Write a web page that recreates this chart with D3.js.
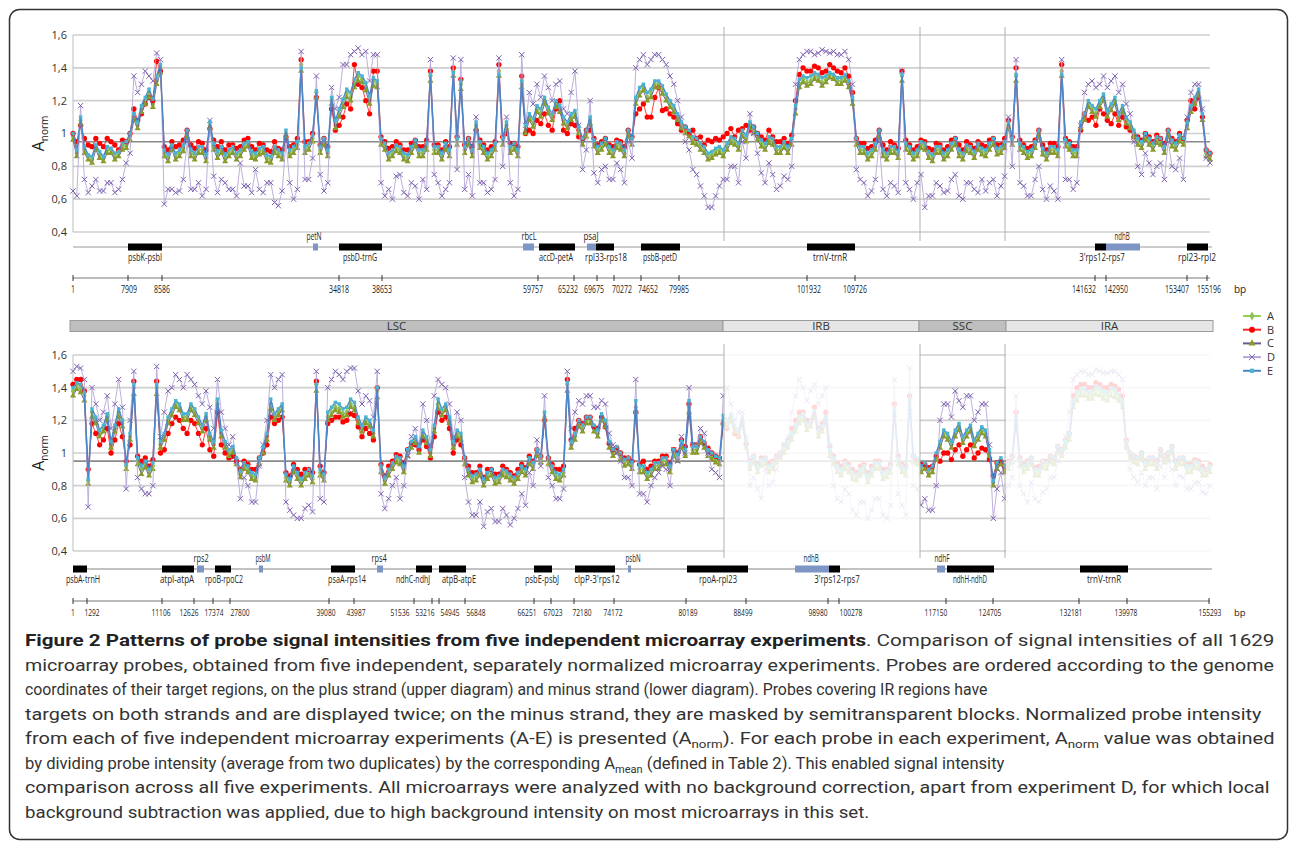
<!DOCTYPE html>
<html lang="en">
<head>
<meta charset="utf-8">
<title>Figure 2</title>
<script src="https://d3js.org/d3.v7.min.js"></script>
<style>
body { margin: 0; background: #fff; }
svg text { font-family: "Open Sans", "DejaVu Sans", sans-serif; fill: #222; }
svg text.cap { font-family: "Roboto", "Open Sans", sans-serif; }
</style>
</head>
<body>
<div id="container"></div>
<script>
// ---- data ----
var seriesNames = ["A", "B", "C", "D", "E"];
var yTickValues = [0.4, 0.6, 0.8, 1, 1.2, 1.4, 1.6];
var refLevel = 0.95;
var probeCount = 1137;   // probe rank along the genome, per strand

// plus strand (upper diagram), sampled probes in genome order
var topA = [
 .98,.88,1.08,.90,.86,.84,.92,.87,.85,.90,.90,.86,.88,.92,.93,.98,1.10,1.05,1.15,1.20,
 1.25,1.18,1.32,1.40,.88,.85,.92,.86,.88,.91,1.00,.88,.86,.90,.90,.85,1.05,.92,.87,.90,
 .85,.88,.90,.86,.88,.92,.94,.87,.86,.89,.90,.85,.84,.90,.88,.86,1.00,.88,.90,.93,
 1.42,.90,.92,.97,1.25,.90,.95,.88,1.20,1.05,1.12,1.18,1.25,1.22,1.30,1.35,1.33,1.28,1.20,1.32,
 1.30,.95,.92,.86,.88,.91,.90,.86,.85,.90,.94,.88,.88,.92,1.35,.90,.90,.86,.92,.88,
 1.38,.95,1.30,.90,.95,.88,1.05,.93,.90,.86,.88,.92,1.38,.95,1.05,.90,.92,.88,1.30,1.02,
 1.10,1.06,1.15,1.12,1.20,1.14,1.10,1.18,1.15,1.08,1.05,1.10,1.12,1.02,.95,1.00,1.08,.94,.90,.92,
 .95,.90,.88,.93,.92,.88,1.00,.95,1.20,1.25,1.28,1.22,1.25,1.30,1.30,1.26,1.22,1.18,1.15,1.10,
 1.05,1.02,1.00,.96,.95,.92,.90,.86,.87,.89,.90,.88,.92,.96,.95,.92,1.00,.97,1.05,1.02,
 .98,.94,.92,.96,.95,.90,.90,.93,.90,.95,1.15,1.30,1.33,1.31,1.32,1.35,1.34,1.31,1.33,1.36,
 1.35,1.32,1.32,1.34,1.30,1.20,.95,.90,.90,.86,.88,.92,1.00,.88,.86,.90,.90,.87,1.35,.92,
 .90,.86,.88,.93,.92,.87,.85,.90,.90,.86,.88,.92,.95,.88,.86,.91,.90,.87,.92,.89,
 .88,.92,.95,.89,.90,.93,1.05,.95,1.35,.92,.90,.87,.88,.93,1.00,.89,.86,.90,.90,.88,
 1.38,.94,.92,.88,.88,1.05,1.10,1.18,1.15,1.12,1.18,1.22,1.12,1.16,1.20,1.10,1.15,1.08,1.05,1.00,
 .95,.93,.98,.95,.92,.96,.95,.90,1.00,.94,.92,.97,.95,1.05,1.15,1.20,1.25,1.10,.88,.86];
var topB = [
 1.00,.95,1.05,.97,.93,.92,.97,.94,.92,.97,.95,.93,.90,.96,.95,1.00,1.15,1.08,1.12,1.18,
 1.22,1.20,1.44,1.38,.92,.90,.95,.92,.93,.96,1.02,.93,.91,.95,.94,.90,1.03,.96,.92,.95,
 .90,.93,.93,.91,.92,.96,.97,.92,.90,.94,.93,.90,.89,.95,.91,.90,.98,.92,.93,.97,
 1.45,.95,.95,1.00,1.22,.93,.97,.92,1.15,1.02,1.05,1.10,1.18,1.15,1.42,1.30,1.28,1.20,1.12,1.38,
 1.38,.98,.95,.91,.92,.95,.93,.90,.90,.94,.96,.92,.92,.96,1.38,.93,.93,.90,.95,.92,
 1.40,.98,1.33,.93,.97,.92,1.02,.96,.93,.90,.92,.95,1.42,.98,1.00,.94,.94,.92,1.35,1.00,
 1.02,1.00,1.08,1.06,1.12,1.05,1.02,1.15,1.20,1.02,1.00,1.06,1.05,.98,.97,1.02,1.02,.97,.93,.95,
 .97,.93,.92,.96,.95,.92,1.02,.98,1.12,1.15,1.18,1.10,1.10,1.22,1.28,1.14,1.15,1.12,1.10,1.06,
 1.02,1.04,1.00,1.02,.97,.98,.93,.96,.95,.97,.96,.98,1.00,1.03,.98,1.02,1.03,1.05,1.02,1.04,
 1.00,.98,.96,1.02,.98,.95,.95,.97,.94,.99,1.20,1.36,1.40,1.38,1.38,1.41,1.40,1.37,1.38,1.42,
 1.40,1.38,1.37,1.40,1.35,1.25,.97,.94,.94,.91,.92,.96,1.02,.93,.90,.95,.93,.91,1.38,.96,
 .93,.90,.92,.96,.95,.91,.90,.94,.93,.90,.92,.96,.97,.93,.90,.95,.93,.91,.95,.93,
 .92,.96,.97,.93,.93,.97,1.08,.98,1.40,.96,.93,.91,.92,.96,1.02,.93,.90,.94,.94,.92,
 1.42,.97,.95,.92,.92,1.02,1.12,1.08,1.10,1.05,1.15,1.12,1.08,1.06,1.12,1.05,1.10,1.04,1.02,.98,
 .98,.96,1.00,.98,.95,.99,.97,.94,1.02,.97,.95,1.00,.97,1.08,1.20,1.15,1.22,1.10,.90,.88];
var topC = [
 .96,.86,1.06,.88,.84,.82,.90,.85,.83,.88,.88,.84,.86,.90,.91,.96,1.08,1.03,1.13,1.18,
 1.22,1.16,1.30,1.37,.86,.83,.90,.84,.86,.89,.98,.86,.84,.88,.88,.83,1.03,.90,.85,.88,
 .83,.86,.88,.84,.86,.90,.92,.85,.84,.87,.88,.83,.82,.88,.86,.84,.98,.86,.88,.91,
 1.38,.88,.90,.95,1.22,.88,.93,.86,1.18,1.03,1.10,1.16,1.22,1.20,1.28,1.32,1.31,1.26,1.18,1.29,
 1.28,.93,.90,.84,.86,.89,.88,.84,.83,.88,.92,.86,.86,.90,1.32,.88,.88,.84,.90,.86,
 1.35,.93,1.27,.88,.93,.86,1.03,.91,.88,.84,.86,.90,1.35,.93,1.03,.88,.90,.86,1.28,1.00,
 1.08,1.04,1.13,1.10,1.18,1.12,1.08,1.16,1.13,1.06,1.03,1.08,1.10,1.00,.93,.98,1.06,.92,.88,.90,
 .93,.88,.86,.91,.90,.86,.98,.93,1.18,1.23,1.26,1.20,1.22,1.28,1.28,1.24,1.20,1.16,1.13,1.08,
 1.03,1.00,.98,.94,.93,.90,.88,.84,.85,.87,.88,.86,.90,.94,.93,.90,.98,.95,1.03,1.00,
 .96,.92,.90,.94,.93,.88,.88,.91,.88,.93,1.12,1.28,1.31,1.29,1.30,1.33,1.32,1.29,1.31,1.34,
 1.33,1.30,1.30,1.32,1.28,1.18,.93,.88,.88,.84,.86,.90,.98,.86,.84,.88,.88,.85,1.32,.90,
 .88,.84,.86,.91,.90,.85,.83,.88,.88,.84,.86,.90,.93,.86,.84,.89,.88,.85,.90,.87,
 .86,.90,.93,.87,.88,.91,1.03,.93,1.32,.90,.88,.85,.86,.91,.98,.87,.84,.88,.88,.86,
 1.35,.92,.90,.86,.86,1.03,1.08,1.16,1.13,1.10,1.16,1.20,1.10,1.14,1.18,1.08,1.13,1.06,1.03,.98,
 .93,.91,.96,.93,.90,.94,.93,.88,.98,.92,.90,.95,.93,1.03,1.13,1.18,1.23,1.08,.86,.84];
var topD = [
 .65,.62,1.17,.72,.64,.68,.72,.65,.65,.70,.70,.64,.66,.72,.82,.88,1.35,1.25,1.30,1.38,
 1.35,1.32,1.49,1.45,.57,.66,.66,.64,.65,.72,.95,.66,.66,.70,.62,.66,1.08,.74,.64,.72,
 .70,.66,.66,.62,.82,.68,.68,.64,.78,.66,.64,.70,.70,.58,.56,.65,.95,.70,.60,.66,
 1.50,.72,.72,.85,1.35,.75,.65,.70,1.28,1.15,1.22,1.42,1.42,1.48,1.50,1.52,1.48,1.50,1.32,1.48,
 1.48,.70,.62,.66,.60,.74,.75,.64,.62,.70,.68,.60,.72,.66,1.45,.75,.70,.62,.66,.70,
 1.46,.78,1.45,.66,.75,.62,1.10,.70,.70,.64,.66,.72,1.46,.80,1.10,.70,.62,.66,1.48,1.05,
 1.25,1.18,1.30,1.22,1.35,1.28,1.20,1.30,1.32,1.15,1.12,1.25,1.38,1.05,.78,.90,1.20,.76,.70,.78,
 .80,.72,.72,.82,.78,.70,.95,.85,1.40,1.45,1.48,1.42,1.45,1.48,1.48,1.45,1.42,1.35,1.30,1.20,
 1.10,.95,.90,.78,.75,.68,.62,.55,.55,.62,.68,.72,.72,.80,.80,.70,.95,.85,1.12,1.00,
 .88,.76,.70,.82,.75,.66,.68,.74,.72,.80,1.30,1.45,1.48,1.50,1.50,1.48,1.49,1.51,1.50,1.49,
 1.50,1.48,1.48,1.50,1.45,1.30,.78,.72,.70,.62,.65,.72,.95,.66,.62,.70,.68,.64,1.38,.70,
 .66,.60,.70,.75,.55,.62,.62,.70,.68,.64,.65,.72,.75,.62,.60,.70,.70,.66,.64,.72,
 .65,.70,.72,.62,.68,.74,1.10,.80,1.45,.70,.68,.62,.62,.72,.80,.66,.60,.68,.65,.60,
 1.45,.72,.72,.66,.70,1.05,1.25,1.30,1.32,1.28,1.30,1.35,1.28,1.32,1.35,1.25,1.30,1.18,1.12,.95,
 .80,.75,.88,.82,.75,.80,.82,.72,.95,.80,.78,.85,.72,1.10,1.25,1.30,1.30,1.15,.85,.82];
var topE = [
 1.00,.90,1.10,.92,.87,.86,.93,.89,.86,.92,.91,.88,.89,.94,.95,1.00,1.12,1.07,1.17,1.22,
 1.27,1.21,1.35,1.42,.90,.87,.93,.88,.90,.93,1.02,.90,.88,.92,.92,.87,1.07,.94,.89,.92,
 .87,.90,.92,.88,.90,.94,.95,.89,.88,.91,.92,.87,.86,.92,.90,.88,1.02,.90,.92,.95,
 1.40,.92,.94,.99,1.26,.92,.97,.90,1.22,1.08,1.15,1.21,1.27,1.25,1.33,1.37,1.35,1.31,1.23,1.34,
 1.32,.97,.94,.88,.90,.93,.92,.88,.87,.92,.96,.90,.90,.94,1.36,.92,.92,.88,.94,.90,
 1.37,.97,1.32,.92,.97,.90,1.07,.95,.92,.88,.90,.94,1.36,.97,1.07,.92,.94,.90,1.32,1.05,
 1.12,1.09,1.17,1.15,1.22,1.16,1.12,1.20,1.17,1.10,1.07,1.12,1.14,1.04,.97,1.02,1.10,.96,.92,.94,
 .97,.92,.90,.95,.94,.90,1.02,.97,1.22,1.28,1.30,1.25,1.27,1.32,1.32,1.29,1.24,1.20,1.17,1.12,
 1.07,1.04,1.02,.98,.97,.94,.92,.88,.89,.91,.92,.90,.94,.98,.97,.94,1.02,.99,1.07,1.04,
 1.00,.96,.94,.98,.97,.92,.92,.95,.92,.97,1.17,1.33,1.35,1.34,1.35,1.37,1.36,1.34,1.35,1.37,
 1.36,1.34,1.34,1.36,1.32,1.22,.97,.92,.92,.88,.90,.94,1.02,.90,.88,.92,.92,.89,1.36,.94,
 .92,.88,.90,.95,.94,.89,.87,.92,.92,.88,.90,.94,.97,.90,.88,.93,.92,.89,.94,.91,
 .90,.94,.97,.91,.92,.95,1.07,.97,1.36,.94,.92,.89,.90,.95,1.02,.91,.88,.92,.92,.90,
 1.36,.96,.94,.90,.90,1.07,1.12,1.20,1.17,1.15,1.20,1.24,1.14,1.18,1.22,1.12,1.17,1.10,1.07,1.02,
 .97,.95,1.00,.97,.94,.98,.97,.92,1.02,.96,.94,.99,.97,1.07,1.17,1.22,1.27,1.12,.90,.88];

// minus strand (lower diagram)
var lowA = [
 1.38,1.42,1.40,1.35,.83,1.25,1.20,1.12,1.15,1.22,1.05,1.15,1.25,1.18,.92,1.10,1.40,.95,.90,.93,
 .88,.92,1.40,1.05,1.10,1.20,1.25,1.30,1.28,1.22,1.22,1.28,1.25,1.20,1.15,1.22,1.10,1.05,1.30,1.12,
 1.05,1.00,1.02,.95,.87,.92,.90,.86,.85,.95,1.02,1.10,1.30,1.22,1.25,1.28,.85,.82,.90,.86,
 .82,.86,.88,.84,1.42,.88,.85,1.22,1.25,1.28,1.27,1.24,1.25,1.30,1.28,1.20,1.15,1.20,1.18,1.12,
 1.38,.90,.83,.88,.92,.96,.95,.90,1.00,1.05,1.08,1.02,1.12,1.08,1.00,1.15,1.30,1.25,1.28,1.20,
 1.05,1.12,1.10,.95,.88,.84,.85,.88,.82,.86,.88,.83,.84,.88,.87,.85,.83,.86,.90,.88,
 .95,.92,1.00,.96,1.22,.95,.90,.86,.85,.88,1.42,1.05,1.10,1.18,1.15,1.20,1.20,1.15,1.12,1.22,
 1.18,1.05,1.00,1.02,.98,.94,.95,.92,1.28,.90,.90,.86,.88,.92,.92,.95,.95,.90,1.00,.97,
 1.05,1.00,1.28,1.02,1.02,1.08,1.05,1.00,.98,.96,.95,1.20,1.18,1.22,1.15,1.12,1.20,1.05,.92,.96,
 .90,.94,.95,.90,.92,.96,.98,1.02,1.05,1.10,1.15,1.20,1.22,1.16,1.18,1.24,1.12,1.15,1.20,1.00,
 .95,.90,.88,.92,.90,.86,.85,.88,.90,.84,.88,.92,.92,.86,.87,.90,1.25,.95,.90,.88,
 1.30,.96,.95,.90,.92,.88,.90,.98,1.05,1.12,1.10,1.05,1.12,1.16,1.08,1.12,1.15,1.06,1.10,1.14,
 1.12,1.00,.82,.92,.95,.90,.92,.96,1.20,.94,.90,.92,.95,.88,.88,.93,.92,.96,.95,1.02,
 1.00,1.05,1.10,1.30,1.35,1.37,1.38,1.35,1.36,1.39,1.38,1.36,1.35,1.38,1.37,1.34,1.30,1.05,.98,.96,
 .95,.98,.92,.95,.95,.92,1.00,.96,.98,1.02,.92,.95,.95,.90,.90,.93,.92,.88,.88,.90];
var lowB = [
 1.42,1.45,1.45,1.38,.90,1.18,1.12,1.05,1.08,1.15,1.00,1.08,1.18,1.10,.95,1.05,1.44,.98,.95,.97,
 .92,.96,1.44,1.00,1.02,1.12,1.18,1.22,1.20,1.15,1.12,1.20,1.18,1.12,1.05,1.15,1.02,.98,1.25,1.05,
 1.00,.97,.98,.95,.90,.95,.93,.90,.90,.97,1.00,1.05,1.22,1.18,1.20,1.22,.88,.86,.93,.90,
 .87,.90,.90,.88,1.44,.92,.88,1.18,1.20,1.22,1.22,1.19,1.20,1.24,1.23,1.16,1.10,1.15,1.12,1.08,
 1.40,.93,.86,.92,.95,.99,.98,.94,1.02,1.06,1.05,1.02,1.08,1.04,.97,1.10,1.25,1.20,1.22,1.15,
 1.00,1.08,1.05,.97,.92,.88,.88,.92,.85,.90,.90,.87,.87,.92,.90,.88,.86,.90,.93,.91,
 .98,.95,1.02,.98,1.20,.97,.93,.90,.90,.92,1.45,1.08,1.15,1.20,1.18,1.22,1.22,1.16,1.15,1.22,
 1.16,1.06,1.02,1.03,1.00,.97,.97,.95,1.25,.93,.95,.90,.92,.95,.95,.98,.98,.94,1.02,1.00,
 1.08,1.04,1.30,1.05,1.05,1.10,1.06,1.03,1.00,.98,.97,1.18,1.15,1.20,1.12,1.10,1.18,1.06,.95,.98,
 .93,.97,.97,.94,.95,.98,1.00,1.05,1.08,1.15,1.20,1.25,1.25,1.20,1.20,1.28,1.15,1.18,1.25,1.04,
 .98,.94,.92,.95,.93,.90,.88,.92,.93,.88,.92,.95,.95,.90,.90,.93,1.30,.98,.93,.92,
 1.35,.98,.96,.93,.93,.91,.92,.98,.95,1.00,1.00,.96,1.02,1.05,.98,1.02,1.05,.97,1.00,1.03,
 1.02,.96,.86,.94,.95,.92,.95,.98,1.25,.97,.93,.95,.97,.91,.92,.95,.95,.98,.97,1.04,
 1.02,1.08,1.12,1.35,1.40,1.42,1.42,1.40,1.40,1.43,1.42,1.40,1.40,1.42,1.41,1.39,1.35,1.08,1.00,.98,
 .97,1.00,.95,.97,.97,.95,1.02,.98,1.00,1.04,.95,.97,.97,.93,.93,.96,.95,.92,.90,.93];
var lowC = [
 1.35,1.39,1.37,1.32,.81,1.22,1.18,1.10,1.13,1.20,1.03,1.13,1.22,1.16,.90,1.08,1.36,.93,.87,.91,
 .86,.90,1.36,1.03,1.08,1.18,1.23,1.28,1.26,1.20,1.20,1.26,1.23,1.18,1.13,1.20,1.08,1.03,1.27,1.10,
 1.03,.98,1.00,.93,.85,.90,.88,.84,.83,.93,1.00,1.08,1.27,1.20,1.23,1.26,.83,.80,.88,.84,
 .80,.84,.86,.82,1.38,.86,.83,1.20,1.23,1.26,1.25,1.22,1.23,1.28,1.26,1.18,1.13,1.18,1.16,1.10,
 1.34,.88,.81,.86,.90,.94,.93,.88,.98,1.03,1.06,1.00,1.10,1.06,.98,1.13,1.27,1.23,1.26,1.18,
 1.03,1.10,1.08,.93,.86,.82,.83,.86,.80,.84,.86,.81,.82,.86,.85,.83,.81,.84,.88,.86,
 .93,.90,.98,.94,1.20,.93,.88,.84,.83,.86,1.38,1.03,1.08,1.16,1.13,1.18,1.18,1.13,1.10,1.20,
 1.16,1.03,.98,1.00,.96,.92,.93,.90,1.25,.88,.88,.84,.86,.90,.90,.93,.93,.88,.98,.95,
 1.03,.98,1.25,1.00,1.00,1.06,1.03,.98,.96,.94,.93,1.18,1.16,1.20,1.13,1.10,1.18,1.03,.90,.94,
 .88,.92,.93,.88,.90,.94,.96,1.00,1.03,1.08,1.13,1.18,1.20,1.14,1.16,1.22,1.10,1.13,1.18,.98,
 .93,.88,.86,.90,.88,.84,.83,.86,.88,.82,.86,.90,.90,.84,.85,.88,1.23,.93,.88,.86,
 1.27,.94,.93,.88,.90,.86,.88,.96,1.03,1.10,1.08,1.03,1.10,1.14,1.06,1.10,1.13,1.04,1.08,1.12,
 1.10,.98,.80,.90,.93,.88,.90,.94,1.18,.92,.88,.90,.93,.86,.86,.91,.90,.94,.93,1.00,
 .98,1.03,1.08,1.28,1.32,1.35,1.35,1.33,1.33,1.36,1.35,1.33,1.32,1.35,1.34,1.32,1.28,1.03,.96,.94,
 .93,.96,.90,.93,.93,.90,.98,.94,.96,1.00,.90,.93,.93,.88,.88,.91,.90,.86,.86,.88];
var lowD = [
 1.50,1.53,1.52,1.45,.67,1.40,1.30,1.20,1.25,1.35,1.15,1.30,1.45,1.28,.78,1.20,1.50,.85,.78,.75,
 .75,.80,1.53,1.10,1.25,1.38,1.40,1.48,1.45,1.40,1.48,1.45,1.42,1.35,1.30,1.38,1.28,1.15,1.45,1.25,
 1.15,1.05,1.10,.95,.72,.85,.80,.70,.70,.92,1.05,1.20,1.48,1.40,1.45,1.48,.70,.65,.62,.60,
 .60,.66,.68,.64,1.50,.72,.70,1.40,1.45,1.50,1.48,1.45,1.50,1.52,1.52,1.38,1.30,1.35,1.32,1.22,
 1.50,.75,.66,.72,.80,.85,.72,.80,.98,1.10,1.15,1.05,1.30,1.20,1.05,1.35,1.45,1.42,1.40,1.30,
 1.10,1.25,1.20,.85,.70,.62,.62,.70,.55,.64,.66,.58,.58,.66,.62,.56,.60,.66,.75,.68,
 .88,.80,1.08,.92,1.35,.85,.80,.72,.72,.78,1.50,1.15,1.25,1.32,1.30,1.35,1.35,1.28,1.28,1.32,
 1.30,1.12,1.05,1.00,.95,.85,.85,.80,1.45,.75,.75,.70,.80,.85,.88,.92,.90,.80,1.02,.95,
 1.10,1.00,1.40,1.05,1.05,1.15,1.12,1.00,.90,.88,.85,1.35,1.40,1.30,1.20,1.25,1.25,1.10,.80,.85,
 .78,.72,.90,.80,.82,.90,.98,1.05,1.10,1.25,1.35,1.45,1.40,1.32,1.38,1.42,1.30,1.35,1.40,1.05,
 .80,.72,.70,.78,.75,.65,.62,.70,.70,.60,.65,.72,.72,.62,.60,.68,1.45,.75,.68,.62,
 1.52,.80,.78,.68,.72,.65,.65,.80,1.20,1.30,1.30,1.22,1.38,1.32,1.28,1.35,1.35,1.20,1.25,1.30,
 1.30,1.05,.60,.78,.88,.72,.80,.85,1.35,.80,.75,.70,.82,.72,.70,.76,.78,.85,.85,.95,
 1.00,1.10,1.25,1.45,1.48,1.50,1.50,1.48,1.48,1.51,1.50,1.49,1.49,1.50,1.50,1.48,1.45,1.05,.90,.85,
 .82,.88,.80,.85,.85,.78,.92,.85,.95,.90,.80,.86,.85,.78,.78,.82,.82,.76,.75,.80];
var lowE = [
 1.40,1.43,1.42,1.37,.84,1.27,1.22,1.14,1.17,1.24,1.07,1.17,1.27,1.20,.93,1.12,1.42,.97,.92,.95,
 .90,.94,1.42,1.07,1.12,1.22,1.27,1.32,1.30,1.24,1.24,1.30,1.27,1.22,1.17,1.24,1.12,1.07,1.33,1.14,
 1.07,1.02,1.04,.97,.89,.94,.92,.88,.87,.97,1.04,1.12,1.33,1.24,1.27,1.30,.87,.84,.92,.88,
 .84,.88,.90,.86,1.42,.90,.87,1.25,1.28,1.31,1.30,1.27,1.28,1.33,1.31,1.22,1.17,1.22,1.20,1.14,
 1.40,.92,.85,.90,.94,.98,.97,.92,1.02,1.07,1.10,1.04,1.14,1.10,1.02,1.17,1.33,1.27,1.30,1.22,
 1.07,1.14,1.12,.97,.90,.86,.87,.90,.84,.88,.90,.85,.86,.90,.89,.87,.85,.88,.92,.90,
 .97,.94,1.02,.98,1.25,.97,.92,.88,.87,.90,1.43,1.07,1.12,1.20,1.17,1.22,1.22,1.17,1.14,1.24,
 1.20,1.07,1.02,1.04,1.00,.96,.97,.94,1.32,.92,.92,.88,.90,.94,.94,.97,.97,.92,1.02,.99,
 1.07,1.02,1.32,1.04,1.04,1.10,1.07,1.02,1.00,.98,.97,1.23,1.20,1.24,1.17,1.14,1.22,1.07,.94,.98,
 .92,.96,.97,.92,.94,.98,1.00,1.04,1.07,1.12,1.17,1.22,1.24,1.18,1.20,1.26,1.14,1.17,1.22,1.02,
 .97,.92,.90,.94,.92,.88,.87,.90,.92,.86,.90,.94,.94,.88,.89,.92,1.27,.97,.92,.90,
 1.32,.98,.97,.92,.94,.90,.92,1.00,1.07,1.14,1.12,1.07,1.14,1.18,1.10,1.14,1.17,1.08,1.12,1.16,
 1.14,1.02,.83,.94,.97,.92,.94,.98,1.22,.96,.92,.94,.97,.90,.90,.95,.94,.98,.97,1.04,
 1.02,1.07,1.12,1.32,1.37,1.39,1.40,1.37,1.38,1.41,1.40,1.38,1.37,1.40,1.39,1.36,1.32,1.07,1.00,.98,
 .97,1.00,.94,.97,.97,.94,1.02,.98,1.00,1.04,.94,.97,.97,.92,.92,.95,.94,.90,.90,.92];

// genome regions (probe rank)
var regions = [
  {name: "LSC", start: -3, end: 650, dark: true},
  {name: "IRB", start: 650, end: 846, dark: false},
  {name: "SSC", start: 846, end: 933, dark: true},
  {name: "IRA", start: 933, end: 1140, dark: false}
];
var separators = [651, 847, 932];
var maskedRanges = [[651, 847], [933, 1140]];

// probe sets: operon = black block, gene = blue block; at = label centre
var topGenes = [
  {name: "psbK-psbI", s: 55, e: 89, kind: "op", at: 72},
  {name: "petN", s: 240, e: 245, kind: "gene", at: 241},
  {name: "psbD-trnG", s: 266, e: 309, kind: "op", at: 287},
  {name: "rbcL", s: 450, e: 461, kind: "gene", at: 456},
  {name: "accD-petA", s: 466, e: 502, kind: "op", at: 483},
  {name: "psaJ", s: 514, e: 523, kind: "gene", at: 518},
  {name: "rpl33-rps18", s: 523, e: 541, kind: "op", at: 533},
  {name: "psbB-petD", s: 568, e: 607, kind: "op", at: 587},
  {name: "trnV-trnR", s: 734, e: 782, kind: "op", at: 757},
  {name: "3'rps12-rps7", s: 1022, e: 1033, kind: "op", at: 1029},
  {name: "ndhB", s: 1033, e: 1067, kind: "gene", at: 1049},
  {name: "rpl23-rpl2", s: 1114, e: 1135, kind: "op", at: 1124}
];
var lowGenes = [
  {name: "psbA-trnH", s: 0, e: 14, kind: "op", at: 10},
  {name: "atpI-atpA", s: 89, e: 121, kind: "op", at: 104},
  {name: "rps2", s: 124, e: 131, kind: "gene", at: 128},
  {name: "rpoB-rpoC2", s: 142, e: 158, kind: "op", at: 151},
  {name: "psbM", s: 186, e: 190, kind: "gene", at: 190},
  {name: "psaA-rps14", s: 258, e: 282, kind: "op", at: 274},
  {name: "rps4", s: 304, e: 310, kind: "gene", at: 306},
  {name: "ndhC-ndhJ", s: 343, e: 359, kind: "op", at: 340},
  {name: "atpB-atpE", s: 366, e: 393, kind: "op", at: 386},
  {name: "psbE-psbJ", s: 461, e: 479, kind: "op", at: 469},
  {name: "clpP-3'rps12", s: 502, e: 542, kind: "op", at: 524},
  {name: "psbN", s: 555, e: 558, kind: "gene", at: 560},
  {name: "rpoA-rpl23", s: 614, e: 675, kind: "op", at: 645},
  {name: "ndhB", s: 722, e: 756, kind: "gene", at: 738},
  {name: "3'rps12-rps7", s: 756, e: 767, kind: "op", at: 764},
  {name: "ndhF", s: 864, e: 872, kind: "gene", at: 869},
  {name: "ndhH-ndhD", s: 874, e: 921, kind: "op", at: 897},
  {name: "trnV-trnR", s: 1007, e: 1055, kind: "op", at: 1031}
];

// genome coordinate ticks (bp) and where they sit on the probe axis
var topTickLabels = ["1","7909","8586","34818","38653","59757","65232","69675","70272","74652","79985","101932","109726","141632","142950","153407","155196"];
var topTickAt     = [0, 55, 89, 266, 309, 465, 501, 524, 541, 568, 606, 734, 782, 1022, 1033, 1114, 1134];
var topTickLabelAt = [0, 56, 89, 266, 309, 460, 495, 521, 549, 575, 606, 736, 782, 1011, 1043, 1104, 1136];
var lowTickLabels = ["1","1292","11106","12626","17374","27800","39080","43987","51536","53216","54945","56848","66251","67023","72180","74172","80189","88499","98980","100278","117150","124705","132181","139978","155293"];
var lowTickAt     = [0, 14, 89, 121, 140, 157, 256, 281, 341, 359, 366, 392, 461, 478, 501, 541, 613, 673, 755, 766, 873, 920, 1006, 1054, 1136];
var lowTickLabelAt = [0, 19, 88, 116, 141, 167, 253, 283, 327, 352, 377, 403, 454, 480, 509, 540, 615, 670, 745, 778, 863, 917, 998, 1053, 1137];

var captionLines = [
  {bold: "Figure 2 Patterns of probe signal intensities from five independent microarray experiments", text: ". Comparison of signal intensities of all 1629", w: 1250},
  {text: "microarray probes, obtained from five independent, separately normalized microarray experiments. Probes are ordered according to the genome", w: 1250},
  {text: "coordinates of their target regions, on the plus strand (upper diagram) and minus strand (lower diagram). Probes covering IR regions have", w: 963},
  {text: "targets on both strands and are displayed twice; on the minus strand, they are masked by semitransparent blocks. Normalized probe intensity", w: 1237},
  {parts: [["from each of five independent microarray experiments (A-E) is presented (A", ""], ["norm", "sub"], ["). For each probe in each experiment, A", ""], ["norm", "sub"], [" value was obtained", ""]], w: 1250},
  {parts: [["by dividing probe intensity (average from two duplicates) by the corresponding A", ""], ["mean", "sub"], [" (defined in Table 2). This enabled signal intensity", ""]], w: 980},
  {text: "comparison across all five experiments. All microarrays were analyzed with no background correction, apart from experiment D, for which local", w: 1245},
  {text: "background subtraction was applied, due to high background intensity on most microarrays in this set.", w: 845}
];

// ---- style ----
var lineColors = ["#92d050", "#ff2a2a", "#6c5a96", "#b7a6d8", "#4a86c8"];
var markColors = ["#8fbf5a", "#ff0000", "#8a9a2b", "#7e62b0", "#4bb3d0"];
var timesType = d3.symbolTimes || d3.symbolX || d3.symbolCross;
var markTypes = [d3.symbolDiamond, d3.symbolCircle, d3.symbolTriangle, timesType, d3.symbolSquare];
var markSizes = [18, 22, 16, 20, 12];

var W = 1290, H = 847;
var svg = d3.select("div#container").append("svg")
  .attr("width", W).attr("height", H).style("background-color", "#ffffff");

var x = d3.scaleLinear().domain([0, probeCount]).range([73, 1210]);
var yTop = d3.scaleLinear().domain([0.4, 1.6]).range([232, 35]);
var yLow = d3.scaleLinear().domain([0.4, 1.6]).range([551, 355]);
var fmt = function(d) { return d === 1 ? "1" : d.toFixed(1).replace(".", ","); };

// squeeze a label to a condensed look
function narrow(sel, perChar) {
  sel.attr("textLength", function(d) { return String(typeof d === "object" ? d.name : d).length * perChar; })
     .attr("lengthAdjust", "spacingAndGlyphs");
}

// frame
svg.append("rect").attr("x", 9.5).attr("y", 9.5).attr("width", 1278).attr("height", 830)
  .attr("rx", 10).attr("fill", "none").attr("stroke", "#333").attr("stroke-width", 1.5);

function drawGrid(y) {
  var g = svg.append("g");
  g.selectAll("line.grid").data(yTickValues).join("line").attr("class", "grid")
    .attr("x1", x(0)).attr("x2", x(probeCount)).attr("y1", function(d) { return y(d); }).attr("y2", function(d) { return y(d); })
    .attr("stroke", "#cfcfcf").attr("stroke-width", 1.6);
  g.append("line").attr("x1", x(0)).attr("x2", x(probeCount)).attr("y1", y(refLevel)).attr("y2", y(refLevel))
    .attr("stroke", "#8a8a8a").attr("stroke-width", 1.6);
  g.append("line").attr("x1", x(0)).attr("x2", x(0)).attr("y1", y(1.6)).attr("y2", y(0.4))
    .attr("stroke", "#bdbdbd").attr("stroke-width", 1);
  g.selectAll("text.tick").data(yTickValues).join("text").attr("class", "tick")
    .attr("x", 67).attr("y", function(d) { return y(d); }).attr("dy", "0.35em")
    .attr("text-anchor", "end").style("font-size", "11px").style("fill", "#333").text(fmt);
  var cy = (y(1.6) + y(0.4)) / 2;
  var t = g.append("text").attr("transform", "translate(44," + cy + ") rotate(-90)")
    .attr("text-anchor", "middle").style("font-size", "16px");
  t.append("tspan").text("A");
  t.append("tspan").attr("dy", 4).style("font-size", "10px").text("norm");
}

function drawSeries(y, sets) {
  sets.forEach(function(vals, k) {
    var xi = d3.scaleLinear().domain([0, vals.length - 1]).range([x(0), x(probeCount)]);
    var g = svg.append("g");
    g.append("path").datum(vals)
      .attr("d", d3.line().x(function(d, i) { return xi(i); }).y(function(d) { return y(d); }))
      .attr("fill", "none").attr("stroke", lineColors[k]).attr("stroke-width", k === 4 ? 1.4 : 0.9);
    var sym = d3.symbol().type(markTypes[k]).size(markSizes[k]);
    g.selectAll("path.m").data(vals).join("path").attr("class", "m")
      .attr("transform", function(d, i) { return "translate(" + xi(i) + "," + y(d) + ")"; })
      .attr("d", sym)
      .attr("fill", k === 3 ? "none" : markColors[k])
      .attr("stroke", k === 3 ? markColors[k] : "none")
      .attr("stroke-width", 1);
  });
}

function drawTrack(lineY, genes, lineColor, lineW) {
  var g = svg.append("g");
  g.append("line").attr("x1", x(0)).attr("x2", x(probeCount) + 2).attr("y1", lineY).attr("y2", lineY)
    .attr("stroke", lineColor).attr("stroke-width", lineW);
  g.selectAll("rect").data(genes).join("rect")
    .attr("x", function(d) { return x(d.s); }).attr("width", function(d) { return x(d.e) - x(d.s); })
    .attr("y", lineY - 3.5).attr("height", 7)
    .attr("fill", function(d) { return d.kind === "op" ? "#000" : "#7d96c6"; });
  g.selectAll("text").data(genes).join("text")
    .attr("x", function(d) { return x(d.at); })
    .attr("y", function(d) { return d.kind === "op" ? lineY + 14 : lineY - 7; })
    .attr("text-anchor", "middle").style("font-size", "10px").style("fill", "#222")
    .text(function(d) { return d.name; })
    .call(narrow, 3.8);
}

function drawCoords(axisY, labels, at, labelAt, fs, perChar) {
  var g = svg.append("g");
  g.append("line").attr("x1", x(0)).attr("x2", x(probeCount)).attr("y1", axisY).attr("y2", axisY)
    .attr("stroke", "#777").attr("stroke-width", 1);
  g.selectAll("line.t").data(at).join("line").attr("class", "t")
    .attr("x1", function(d) { return x(d); }).attr("x2", function(d) { return x(d); })
    .attr("y1", axisY - 3).attr("y2", axisY + 3).attr("stroke", "#333").attr("stroke-width", 1);
  g.selectAll("text").data(labels).join("text")
    .attr("x", function(d, i) { return x(labelAt[i]); }).attr("y", axisY + 15)
    .attr("text-anchor", "middle").style("font-size", fs).style("fill", "#222")
    .text(function(d) { return d; })
    .call(narrow, perChar);
  g.append("text").attr("x", 1234).attr("y", axisY + 15).style("font-size", fs).text("bp");
}

// ---- upper diagram (plus strand) ----
drawGrid(yTop);
svg.append("g").selectAll("line").data(separators).join("line")
  .attr("x1", function(d) { return x(d); }).attr("x2", function(d) { return x(d); })
  .attr("y1", 27).attr("y2", 241).attr("stroke", "#b0b0b0").attr("stroke-width", 1);
drawSeries(yTop, [topA, topB, topC, topD, topE]);
drawTrack(247, topGenes, "#999", 1);
drawCoords(278, topTickLabels, topTickAt, topTickLabelAt, "10px", 4.0);

// ---- region bar ----
var rb = svg.append("g");
rb.selectAll("rect").data(regions).join("rect")
  .attr("x", function(d) { return x(d.start); }).attr("width", function(d) { return x(d.end) - x(d.start); })
  .attr("y", 320.5).attr("height", 11)
  .attr("fill", function(d) { return d.dark ? "#bfbfbf" : "#e6e6e6"; })
  .attr("stroke", "#9a9a9a").attr("stroke-width", 1);
rb.selectAll("text").data(regions).join("text")
  .attr("x", function(d) { return x((d.start + d.end) / 2); }).attr("y", 330)
  .attr("text-anchor", "middle").style("font-size", "11.5px").style("fill", "#333")
  .text(function(d) { return d.name; });

// ---- lower diagram (minus strand) ----
drawGrid(yLow);
drawSeries(yLow, [lowA, lowB, lowC, lowD, lowE]);
svg.append("g").selectAll("rect").data(maskedRanges).join("rect")
  .attr("x", function(d) { return x(d[0]); }).attr("width", function(d) { return x(d[1]) - x(d[0]); })
  .attr("y", 344).attr("height", 214).attr("fill", "#ffffff").attr("opacity", 0.84);
svg.append("g").selectAll("line").data(separators).join("line")
  .attr("x1", function(d) { return x(d); }).attr("x2", function(d) { return x(d); })
  .attr("y1", 344).attr("y2", 558).attr("stroke", "#b0b0b0").attr("stroke-width", 1);
drawTrack(569, lowGenes, "#c2c2c2", 2);
drawCoords(601, lowTickLabels, lowTickAt, lowTickLabelAt, "9.5px", 3.8);

// ---- legend ----
var lg = svg.append("g");
seriesNames.forEach(function(n, k) {
  var ly = 316 + k * 13.7;
  lg.append("line").attr("x1", 1243).attr("x2", 1261).attr("y1", ly).attr("y2", ly)
    .attr("stroke", lineColors[k]).attr("stroke-width", 2);
  lg.append("path").attr("transform", "translate(1252," + ly + ")")
    .attr("d", d3.symbol().type(markTypes[k]).size(markSizes[k] + 6)())
    .attr("fill", k === 3 ? "none" : markColors[k]).attr("stroke", k === 3 ? markColors[k] : "none");
  lg.append("text").attr("x", 1267).attr("y", ly + 4)
    .style("font-size", "11px").style("fill", "#333").text(n);
});

// ---- caption: each line stretched/squeezed horizontally to its measured width ----
var cap = svg.append("g");
captionLines.forEach(function(c, i) {
  var t = cap.append("text").attr("class", "cap").attr("x", 0).attr("y", 0)
    .style("font-size", "16.5px").style("fill", "#333");
  if (c.bold) {
    t.append("tspan").style("font-weight", "bold").style("fill", "#222").text(c.bold);
    t.append("tspan").text(c.text);
  } else if (c.parts) {
    c.parts.forEach(function(p, j) {
      var s = t.append("tspan").text(p[0]);
      if (p[1] === "sub") s.attr("dy", 4).style("font-size", "11px");
      else if (j > 0 && c.parts[j - 1][1] === "sub") s.attr("dy", -4);
    });
  } else {
    t.text(c.text);
  }
  var len = t.node().getComputedTextLength() || c.w;
  t.attr("transform", "translate(25," + (646 + i * 24.5) + ") scale(" + (c.w / len) + ",1)");
});
</script>
</body>
</html>
